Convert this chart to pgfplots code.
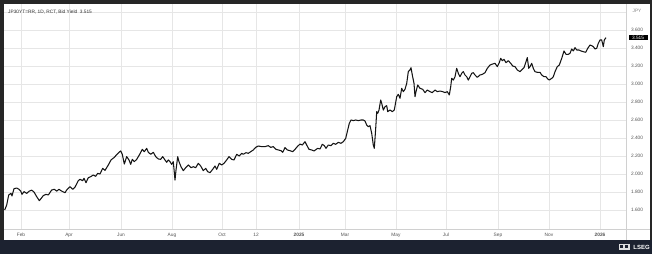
\documentclass[border=0pt]{standalone}
\usepackage{pgfplots}
\pgfplotsset{compat=1.18}
\usepackage{fontspec}
\setmainfont{Liberation Sans}
\definecolor{frame}{HTML}{262626}
\definecolor{band}{HTML}{1C2230}
\definecolor{gridc}{HTML}{E6E6E6}
\definecolor{sepc}{HTML}{D0D0D0}
\definecolor{labc}{HTML}{555555}
\newcommand{\chfont}{\fontsize{4.8bp}{5.5bp}\selectfont}
\begin{document}
\begin{tikzpicture}
\path[use as bounding box] (0,0) rectangle (652bp,254bp);
\fill[frame] (0,0) rectangle (652bp,254bp);
\fill[band] (0,0) rectangle (652bp,14bp);
\fill[white] (4bp,14bp) rectangle (650bp,250bp);
\begin{axis}[
  at={(4bp,25bp)}, anchor=south west,
  scale only axis, width=622bp, height=225bp,
  xmin=4, xmax=626, ymin=1.38889, ymax=3.88889,
  axis x line*=bottom, axis y line*=right,
  axis line style={draw=sepc, line width=0.6bp, -},
  major tick length=0pt,
  grid=major, major grid style={draw=gridc, line width=0.55bp},
  xtick={21,69,121,172,222,256,299,345,396,446,498,549,600},
  xticklabels={Feb,Apr,Jun,Aug,Oct,12,\textbf{2025},Mar,May,Jul,Sep,Nov,\textbf{2026}},
  xticklabel style={font=\chfont, text=labc, anchor=center, yshift=-6bp},
  ytick={1.6,1.8,2.0,2.2,2.4,2.6,2.8,3.0,3.2,3.4,3.6},
  extra y ticks={3.8}, extra y tick labels={},
  yticklabel style={font=\chfont, text=labc, anchor=center, xshift=11bp},
  yticklabel={\pgfmathprintnumber[fixed,fixed zerofill,precision=3,assume math mode=true]{\tick}},
  clip=false,
]
\addplot[color=black!92, line width=1.05bp, line join=round] coordinates {
(4.7,1.600)(6.7,1.656)(8.7,1.767)(11,1.785)(12,1.756)(14,1.837)(16.7,1.844)(19,1.830)(20.7,1.811)(22,1.774)
(24,1.804)(26.7,1.785)(29.3,1.810)(31.7,1.820)(34,1.800)(36.7,1.748)(39.3,1.704)(41.3,1.730)(43.3,1.760)(46,1.774)
(48.3,1.767)(51.7,1.822)(54.3,1.830)(56.7,1.810)(59,1.830)(61.7,1.810)(65,1.792)(66.7,1.822)(70,1.859)(72.7,1.830)
(75,1.854)(78.3,1.926)(80,1.941)(82.7,1.926)(84,1.952)(86,1.904)(88.3,1.959)(90.7,1.970)(93.3,1.989)(95.7,1.974)
(97.7,2.007)(100,2.000)(102.7,2.063)(105,2.040)(108.3,2.100)(111,2.156)(114.3,2.185)(117,2.219)(119,2.241)(120.7,2.256)
(122.3,2.219)(124.3,2.111)(126.7,2.193)(129,2.156)(130.7,2.107)(132.3,2.163)(134.3,2.137)(136.7,2.163)(139.3,2.211)(142.3,2.274)
(144.3,2.248)(146.7,2.285)(148.3,2.241)(150.7,2.219)(153.3,2.241)(155.7,2.193)(158.3,2.167)(160.7,2.163)(162.7,2.193)(165,2.156)
(166.7,2.130)(168.3,2.156)(170,2.137)(171.7,2.107)(173.3,2.137)(175,1.933)(176,2.044)(177.7,2.193)(179,2.137)(181,2.081)
(183.3,2.037)(185.7,2.070)(188.3,2.100)(191,2.070)(193.3,2.081)(195.7,2.070)(198.3,2.119)(200.7,2.089)(203.3,2.037)(205.7,2.063)
(207.7,2.026)(210,2.015)(212.7,2.052)(215,2.089)(216.7,2.052)(219.3,2.119)(221.7,2.100)(224,2.119)(226.7,2.156)(229,2.193)
(231.7,2.163)(234,2.156)(236.7,2.219)(239.3,2.200)(241.7,2.230)(243.3,2.219)(246,2.237)(248.3,2.230)(250.7,2.248)(253.3,2.267)
(255.7,2.296)(258.3,2.311)(261.7,2.304)(265,2.304)(268.3,2.315)(270.7,2.296)(273.3,2.304)(276,2.274)(278.3,2.267)(281,2.259)
(282.7,2.241)(285,2.293)(287.3,2.267)(290,2.259)(292.7,2.248)(295,2.274)(297.3,2.304)(300,2.333)(302.3,2.322)(305,2.359)
(306.7,2.322)(309,2.274)(311.7,2.267)(314,2.256)(317.7,2.285)(320,2.278)(322.3,2.330)(324.3,2.315)(326,2.285)(328.3,2.322)
(331,2.315)(333.3,2.341)(335.7,2.330)(338.3,2.352)(341,2.341)(343.3,2.359)(345.7,2.396)(347.7,2.489)(349.3,2.563)(351,2.600)
(353.3,2.593)(355.7,2.600)(358.3,2.593)(361,2.600)(363.3,2.600)(365,2.589)(366.7,2.544)(368.3,2.526)(370,2.537)(371.7,2.452)
(373.3,2.322)(374.3,2.285)(375.7,2.507)(376.7,2.693)(377.7,2.674)(379,2.711)(380.7,2.822)(381.7,2.785)(383.3,2.711)(385,2.748)
(386.7,2.759)(387.7,2.693)(390,2.711)(392.3,2.693)(394.3,2.711)(396.7,2.859)(398.3,2.885)(400,2.841)(401.7,2.952)(403.3,2.915)
(405,2.941)(406.7,3.007)(408.3,3.137)(410,3.156)(411,3.181)(412.3,3.100)(414,3.007)(415,2.859)(416,2.915)(417.7,2.989)
(420,2.952)(422.7,2.941)(425,2.904)(427.3,2.933)(430,2.915)(432.3,2.904)(435,2.933)(437.3,2.915)(440,2.922)(442.7,2.915)
(445,2.904)(447.3,2.915)(449.3,2.878)(450.7,2.970)(451.7,3.063)(453.3,3.044)(455,3.081)(456.7,3.174)(458.3,3.119)(460,3.081)
(461.7,3.119)(463.3,3.137)(465,3.100)(466.7,3.081)(468.3,3.044)(470,3.081)(471.7,3.119)(473.3,3.126)(475,3.100)(477.3,3.074)
(480,3.100)(482.3,3.107)(485,3.126)(487.3,3.174)(490,3.211)(492.7,3.222)(495,3.230)(497.3,3.193)(499.3,3.237)(500.7,3.285)
(502.3,3.259)(504,3.274)(506,3.237)(508.3,3.259)(510.7,3.230)(512.7,3.200)(515,3.193)(517.3,3.156)(520,3.137)(522.7,3.167)
(524,3.181)(526,3.248)(527.3,3.293)(528.7,3.174)(530,3.193)(531.7,3.230)(533.3,3.174)(535,3.137)(537.3,3.130)(540,3.130)
(541.7,3.100)(544,3.081)(546,3.081)(547.7,3.056)(549.3,3.044)(551.7,3.063)(553.3,3.081)(555,3.137)(557.3,3.193)(559.3,3.211)
(561.7,3.285)(564,3.367)(566,3.330)(568.3,3.330)(570,3.341)(571.7,3.389)(573.3,3.367)(575,3.404)(576.7,3.378)(579,3.378)
(581,3.367)(583.3,3.359)(585.7,3.352)(587.7,3.396)(590,3.433)(591.7,3.426)(593.3,3.415)(595,3.389)(596.7,3.396)(598.3,3.452)
(600,3.489)(601.7,3.489)(603.3,3.415)(604.3,3.489)(606,3.515)
};
\end{axis}
\draw[sepc, line width=0.6bp] (626bp,25bp) -- (650bp,25bp);
\draw[sepc, line width=0.6bp] (626bp,25bp) -- (626bp,14bp);
\node[anchor=west, inner sep=0pt, font=\chfont, text=black!80] at (8bp,242.3bp) {JP30YT=RR, 1D, RCT, Bid Yield\ \ 3.515};
\node[anchor=center, inner sep=0pt, font=\chfont, text=labc!70] at (637bp,243bp) {JPY};
\node[fill=black, text=white, font=\chfont, inner sep=0.6bp, minimum width=19bp, anchor=center] at (638bp,216.4bp) {3.515};
\node[anchor=center, inner sep=0pt, font=\fontsize{6bp}{7bp}\selectfont\bfseries, text=white] at (641.5bp,7bp) {LSEG};
\fill[white!85!band] (618.5bp,4bp) rectangle (629.5bp,10bp);
\fill[band] (620bp,5.5bp) rectangle (623bp,8.5bp);
\fill[band] (625bp,5.5bp) rectangle (628bp,8.5bp);
\end{tikzpicture}
\end{document}
